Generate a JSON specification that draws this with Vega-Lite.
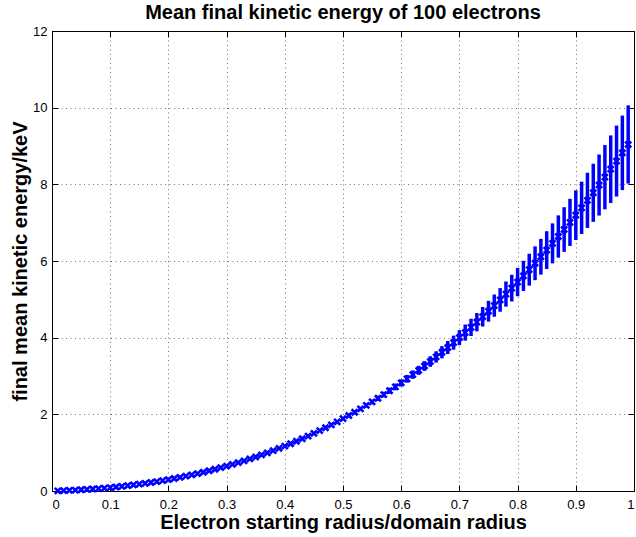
{
  "$schema": "https://vega.github.io/schema/vega-lite/v6.json",
  "width": 582,
  "height": 460,
  "autosize": "none",
  "padding": {"left": 52, "top": 31, "right": 2, "bottom": 46},
  "background": "white",
  "title": {
    "text": "Mean final kinetic energy of 100 electrons",
    "font": "Liberation Sans",
    "fontSize": 20,
    "fontWeight": "bold",
    "color": "black",
    "anchor": "middle",
    "frame": "group",
    "baseline": "bottom",
    "offset": 0,
    "dy": 18
  },
  "data": {
    "values": [
      {"x": 0.01, "mean": 0.004, "err": 0},
      {"x": 0.02, "mean": 0.010, "err": 0},
      {"x": 0.03, "mean": 0.016, "err": 0},
      {"x": 0.04, "mean": 0.023, "err": 0},
      {"x": 0.05, "mean": 0.032, "err": 0},
      {"x": 0.06, "mean": 0.041, "err": 0},
      {"x": 0.07, "mean": 0.052, "err": 0},
      {"x": 0.08, "mean": 0.063, "err": 0},
      {"x": 0.09, "mean": 0.076, "err": 0},
      {"x": 0.10, "mean": 0.090, "err": 0},
      {"x": 0.11, "mean": 0.105, "err": 0},
      {"x": 0.12, "mean": 0.121, "err": 0},
      {"x": 0.13, "mean": 0.139, "err": 0},
      {"x": 0.14, "mean": 0.158, "err": 0},
      {"x": 0.15, "mean": 0.178, "err": 0},
      {"x": 0.16, "mean": 0.199, "err": 0},
      {"x": 0.17, "mean": 0.222, "err": 0},
      {"x": 0.18, "mean": 0.246, "err": 0},
      {"x": 0.19, "mean": 0.271, "err": 0},
      {"x": 0.20, "mean": 0.298, "err": 0.001},
      {"x": 0.21, "mean": 0.326, "err": 0.001},
      {"x": 0.22, "mean": 0.356, "err": 0.001},
      {"x": 0.23, "mean": 0.387, "err": 0.001},
      {"x": 0.24, "mean": 0.420, "err": 0.001},
      {"x": 0.25, "mean": 0.455, "err": 0.001},
      {"x": 0.26, "mean": 0.490, "err": 0.002},
      {"x": 0.27, "mean": 0.528, "err": 0.002},
      {"x": 0.28, "mean": 0.567, "err": 0.002},
      {"x": 0.29, "mean": 0.608, "err": 0.003},
      {"x": 0.30, "mean": 0.650, "err": 0.0035},
      {"x": 0.31, "mean": 0.694, "err": 0.0041},
      {"x": 0.32, "mean": 0.740, "err": 0.0047},
      {"x": 0.33, "mean": 0.787, "err": 0.0055},
      {"x": 0.34, "mean": 0.837, "err": 0.0063},
      {"x": 0.35, "mean": 0.888, "err": 0.0072},
      {"x": 0.36, "mean": 0.941, "err": 0.0083},
      {"x": 0.37, "mean": 0.995, "err": 0.0094},
      {"x": 0.38, "mean": 1.052, "err": 0.0107},
      {"x": 0.39, "mean": 1.110, "err": 0.0121},
      {"x": 0.40, "mean": 1.171, "err": 0.0137},
      {"x": 0.41, "mean": 1.233, "err": 0.0154},
      {"x": 0.42, "mean": 1.297, "err": 0.0172},
      {"x": 0.43, "mean": 1.364, "err": 0.0193},
      {"x": 0.44, "mean": 1.432, "err": 0.0215},
      {"x": 0.45, "mean": 1.502, "err": 0.0239},
      {"x": 0.46, "mean": 1.575, "err": 0.0266},
      {"x": 0.47, "mean": 1.649, "err": 0.0294},
      {"x": 0.48, "mean": 1.726, "err": 0.0325},
      {"x": 0.49, "mean": 1.805, "err": 0.0359},
      {"x": 0.50, "mean": 1.886, "err": 0.0395},
      {"x": 0.51, "mean": 1.969, "err": 0.0434},
      {"x": 0.52, "mean": 2.054, "err": 0.0476},
      {"x": 0.53, "mean": 2.142, "err": 0.0521},
      {"x": 0.54, "mean": 2.232, "err": 0.0570},
      {"x": 0.55, "mean": 2.324, "err": 0.0622},
      {"x": 0.56, "mean": 2.419, "err": 0.0678},
      {"x": 0.57, "mean": 2.515, "err": 0.0737},
      {"x": 0.58, "mean": 2.615, "err": 0.0801},
      {"x": 0.59, "mean": 2.716, "err": 0.0869},
      {"x": 0.60, "mean": 2.820, "err": 0.0941},
      {"x": 0.61, "mean": 2.927, "err": 0.1018},
      {"x": 0.62, "mean": 3.036, "err": 0.1100},
      {"x": 0.63, "mean": 3.147, "err": 0.1187},
      {"x": 0.64, "mean": 3.261, "err": 0.1279},
      {"x": 0.65, "mean": 3.378, "err": 0.1377},
      {"x": 0.66, "mean": 3.497, "err": 0.1481},
      {"x": 0.67, "mean": 3.619, "err": 0.1591},
      {"x": 0.68, "mean": 3.743, "err": 0.1707},
      {"x": 0.69, "mean": 3.870, "err": 0.1830},
      {"x": 0.70, "mean": 4.000, "err": 0.1960},
      {"x": 0.71, "mean": 4.132, "err": 0.2096},
      {"x": 0.72, "mean": 4.268, "err": 0.2241},
      {"x": 0.73, "mean": 4.405, "err": 0.2393},
      {"x": 0.74, "mean": 4.546, "err": 0.2552},
      {"x": 0.75, "mean": 4.690, "err": 0.2721},
      {"x": 0.76, "mean": 4.836, "err": 0.2898},
      {"x": 0.77, "mean": 4.985, "err": 0.3084},
      {"x": 0.78, "mean": 5.137, "err": 0.3279},
      {"x": 0.79, "mean": 5.292, "err": 0.3484},
      {"x": 0.80, "mean": 5.450, "err": 0.3699},
      {"x": 0.81, "mean": 5.611, "err": 0.3924},
      {"x": 0.82, "mean": 5.774, "err": 0.4161},
      {"x": 0.83, "mean": 5.941, "err": 0.4408},
      {"x": 0.84, "mean": 6.111, "err": 0.4666},
      {"x": 0.85, "mean": 6.284, "err": 0.4936},
      {"x": 0.86, "mean": 6.460, "err": 0.5219},
      {"x": 0.87, "mean": 6.639, "err": 0.5514},
      {"x": 0.88, "mean": 6.821, "err": 0.5822},
      {"x": 0.89, "mean": 7.007, "err": 0.6144},
      {"x": 0.90, "mean": 7.195, "err": 0.6480},
      {"x": 0.91, "mean": 7.387, "err": 0.6830},
      {"x": 0.92, "mean": 7.582, "err": 0.7195},
      {"x": 0.93, "mean": 7.780, "err": 0.7575},
      {"x": 0.94, "mean": 7.982, "err": 0.7970},
      {"x": 0.95, "mean": 8.187, "err": 0.8382},
      {"x": 0.96, "mean": 8.395, "err": 0.8811},
      {"x": 0.97, "mean": 8.607, "err": 0.9256},
      {"x": 0.98, "mean": 8.822, "err": 0.9719},
      {"x": 0.99, "mean": 9.040, "err": 1.0200}
    ]
  },
  "layer": [
    {
      "mark": {"type": "errorbar", "color": "#0000ff", "thickness": 3.5},
      "encoding": {
        "x": {
          "field": "x", "type": "quantitative",
          "scale": {"domain": [0, 1], "nice": false},
          "axis": {"orient": "top", "labels": false, "grid": false, "title": null, "domain": false,
                   "values": [0, 0.1, 0.2, 0.3, 0.4, 0.5, 0.6, 0.7, 0.8, 0.9, 1]}
        },
        "y": {
          "field": "mean", "type": "quantitative",
          "scale": {"domain": [0, 12], "nice": false},
          "axis": {"orient": "right", "labels": false, "grid": false, "title": null, "domain": false,
                   "values": [0, 2, 4, 6, 8, 10, 12]}
        },
        "yError": {"field": "err"}
      }
    },
    {
      "mark": {"type": "point", "shape": "M-1,-1L1,1M-1,1L1,-1", "filled": false, "color": "#0000ff", "strokeWidth": 2.6, "size": 36, "opacity": 1},
      "encoding": {
        "x": {
          "field": "x", "type": "quantitative",
          "scale": {"domain": [0, 1], "nice": false},
          "axis": {"orient": "bottom", "grid": true, "title": "Electron starting radius/domain radius",
                   "format": "~g", "labelPadding": 13,
                   "values": [0, 0.1, 0.2, 0.3, 0.4, 0.5, 0.6, 0.7, 0.8, 0.9, 1],
                   "titleY": 37, "titleBaseline": "alphabetic"}
        },
        "y": {
          "field": "mean", "type": "quantitative",
          "scale": {"domain": [0, 12], "nice": false},
          "axis": {"orient": "left", "grid": true, "title": "final mean kinetic energy/keV",
                   "format": "~g", "labelPadding": 11,
                   "values": [0, 2, 4, 6, 8, 10, 12],
                   "titleX": -26, "titleY": 230, "titleAngle": -90, "titleBaseline": "alphabetic", "titleAlign": "center"}
        }
      }
    }
  ],
  "resolve": {"axis": {"x": "independent", "y": "independent"}},
  "config": {
    "view": {"stroke": "black", "strokeWidth": 1},
    "axis": {
      "labelFont": "Liberation Sans",
      "labelFontSize": 13,
      "labelColor": "black",
      "domainColor": "black",
      "domainWidth": 1,
      "tickColor": "black",
      "tickSize": -6,
      "tickWidth": 1,
      "gridColor": "#000000",
      "gridDash": [1, 3.5],
      "gridOpacity": 0.55,
      "gridWidth": 1,
      "titleFont": "Liberation Sans",
      "titleFontSize": 20,
      "titleFontWeight": "bold",
      "titleColor": "black"
    }
  }
}
